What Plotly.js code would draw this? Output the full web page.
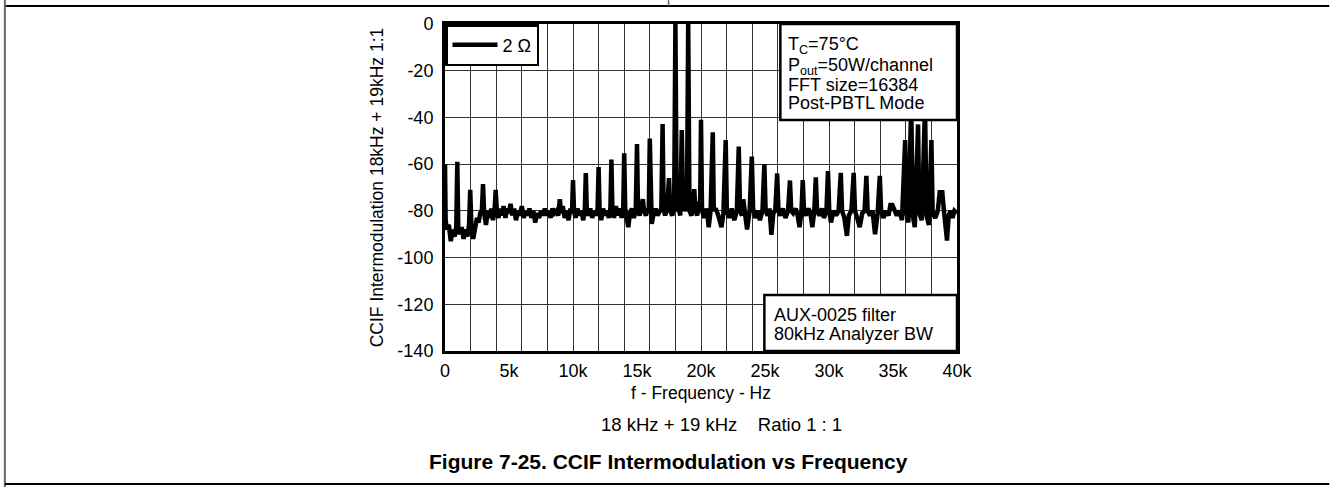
<!DOCTYPE html>
<html>
<head>
<meta charset="utf-8">
<script src="https://cdn.plot.ly/plotly-3.0.1.min.js"></script>
<style>
html,body{margin:0;padding:0;background:#fff;}
#chart{width:1331px;height:487px;}
</style>
</head>
<body>
<div id="chart"></div>
<script>
// Frequency (Hz) of each FFT point
const freqHz = [
0,50,150,300,450,600,750,880,960,1040,1150,1300,1450,1600,1750,1880,1970,2060,2200,2350,
2500,2620,2750,2880,2970,3060,3200,3350,3500,3620,3750,3870,3960,4050,4180,4300,4450,4580,4720,4850,
5000,5120,5250,5400,5550,5700,5850,6000,6150,6300,6450,6600,6750,6900,7050,7200,7350,7500,7650,7800,
7950,8100,8250,8400,8550,8700,8850,8970,9080,9200,9350,9500,9650,9800,9920,10000,10080,10200,10350,10500,
10650,10800,10920,11000,11080,11200,11350,11500,11650,11800,11920,12000,12080,12200,12350,12500,12650,12800,12920,13000,
13080,13200,13350,13500,13650,13800,13920,14000,14080,14200,14320,14450,14600,14750,14900,15000,15080,15200,15350,15460,
15550,15700,15850,15920,16000,16080,16150,16300,16450,16600,16750,16900,17000,17080,17200,17350,17500,17600,17750,17900,
18000,18100,18250,18380,18500,18600,18750,18900,19000,19100,19250,19350,19470,19580,19700,19850,19930,20000,20080,20250,
20450,20600,20750,20920,21000,21150,21350,21600,21750,21930,22020,22200,22400,22600,22800,22950,23050,23200,23300,23450,
23600,23800,23970,24070,24250,24450,24600,24800,24950,25050,25200,25350,25500,25650,25800,25950,26050,26200,26400,26600,
26800,26950,27050,27200,27400,27550,27700,27850,27950,28050,28200,28400,28550,28700,28850,28970,29070,29250,29450,29600,
29800,29920,30020,30150,30350,30550,30750,30920,31020,31200,31400,31550,31750,31930,32030,32200,32400,32600,32780,32920,
33020,33200,33400,33600,33800,33970,34070,34250,34450,34650,34800,34950,35100,35300,35500,35700,35950,36050,36200,36420,
36550,36700,36960,37050,37250,37500,37620,37800,38000,38100,38300,38500,38650,38850,38980,39100,39220,39350,39500,39650,
39800,40000
];
// CCIF intermodulation level (dB) at each frequency above
const levelDb = [
-60,-84,-88,-86,-93,-88,-91,-87,-59,-88,-90,-87,-92,-88,-91,-86,-71,-86,-92,-88,
-83,-85,-81,-80,-68.5,-81,-86,-80,-83,-79,-84,-80,-71,-80,-83,-79,-82,-78,-83,-79,
-81,-77,-82,-79,-84,-80,-82,-78,-83,-80,-82,-79,-83,-80,-85,-81,-83,-80,-82,-79,
-82,-80,-83,-79,-81,-80,-82,-75,-81,-78,-83,-80,-84,-79,-81,-66.8,-80,-83,-79,-82,
-80,-84,-80,-63.8,-80,-82,-79,-83,-80,-82,-79,-61.2,-80,-84,-79,-82,-80,-83,-79,-58,
-80,-83,-78,-82,-79,-83,-80,-55.4,-79,-83,-87,-81,-79,-83,-80,-51.4,-80,-82,-78,-75,
-80,-82,-79,-80,-49,-81,-85.6,-81,-79,-82,-80,-79,-42.8,-79,-82,-79,-66,-80,-82,-79,
0,-80,-79,-82,-45.4,-80,-78,-80,0,-80,-82,-79,-70.7,-80,-82,-76,-80,-41,-80,-83,
-79,-87,-80,-46.4,-80,-79,-82,-87,-81,-49.7,-80,-83,-79,-84,-80,-52.5,-80,-82,-75,-81,
-88,-80,-56.8,-79,-83,-80,-84,-80,-60,-80,-82,-79,-90.3,-81,-80,-64,-80,-82,-79,-83,
-80,-67,-80,-81,-79,-82,-87,-80,-66.8,-80,-82,-79,-81,-87,-80,-65.7,-80,-82,-79,-83,
-80,-63,-80,-85,-80,-82,-80,-63.7,-80,-83,-90.7,-82,-80,-63.7,-80,-83,-87,-81,-80,-65,
-80,-82,-80,-90,-81,-65,-80,-83,-80,-82,-77.5,-77.5,-80,-82,-80,-84,-49.7,-81,-85,-35,
-82,-87,-43,-81,-84,-35,-82,-86,-49.7,-81,-83,-80,-72,-72,-80,-85,-92.7,-82,-80,-83,
-80,-81
];
const seriesName = '2 \u03A9';
const xTickVals = [0,5000,10000,15000,20000,25000,30000,35000,40000];
const xTickText = ['0','5k','10k','15k','20k','25k','30k','35k','40k'];
const yTickVals = [0,-20,-40,-60,-80,-100,-120,-140];
const yTickText = ['0','-20','-40','-60','-80','-100','-120','-140'];
const condLines = ['T<sub>C</sub>=75\u00B0C','P<sub>out</sub>=50W/channel','FFT size=16384','Post-PBTL Mode'];
const filterLines = ['AUX-0025 filter','80kHz Analyzer BW'];

const FONT = 'Liberation Sans, Arial, sans-serif';

const trace = {
  x: freqHz, y: levelDb, type: 'scatter', mode: 'lines', name: seriesName,
  line: {color: '#000', width: 4.5}, xaxis: 'x', yaxis: 'y'
};

function px2x(px){ return (px-445)/513; }
function px2y(py){ return (351-py)/327; }

const shapes = [
  // outer page frame
  {type:'line', xref:'paper', yref:'paper', x0:px2x(4), x1:px2x(1331), y0:px2y(6), y1:px2y(6), line:{color:'#000', width:2}},
  {type:'line', xref:'paper', yref:'paper', x0:px2x(4), x1:px2x(4), y0:px2y(0), y1:px2y(487), line:{color:'#666', width:2}},
  {type:'line', xref:'paper', yref:'paper', x0:px2x(669), x1:px2x(669), y0:px2y(0), y1:px2y(6), line:{color:'#666', width:1.5}},
  {type:'line', xref:'paper', yref:'paper', x0:px2x(4), x1:px2x(1331), y0:px2y(484), y1:px2y(484), line:{color:'#000', width:2}},
  // conditions box
  {type:'rect', xref:'paper', yref:'paper', layer:'above', x0:px2x(781), x1:1, y0:px2y(120), y1:1, fillcolor:'#fff', line:{color:'#000', width:2.5}},
  // filter box
  {type:'rect', xref:'paper', yref:'paper', layer:'above', x0:px2x(765), x1:1, y0:0, y1:px2y(295), fillcolor:'#fff', line:{color:'#000', width:2.5}}
];

const condY = [45, 65.5, 84, 102];
const annotations = [];
condLines.forEach((t,i)=>annotations.push({xref:'paper', yref:'paper', x:px2x(787), y:px2y(condY[i]+1), xanchor:'left', yanchor:'middle', showarrow:false, text:t, font:{family:FONT, size:18, color:'#000'}}));
const filtY = [313.5, 333];
filterLines.forEach((t,i)=>annotations.push({xref:'paper', yref:'paper', x:px2x(773), y:px2y(filtY[i]+1), xanchor:'left', yanchor:'middle', showarrow:false, text:t, font:{family:FONT, size:18, color:'#000'}}));
annotations.push({xref:'paper', yref:'paper', x:px2x(599), y:px2y(424), xanchor:'left', yanchor:'middle', showarrow:false,
  text:'18 kHz + 19 kHz&nbsp;&nbsp;&nbsp;&nbsp;Ratio 1 : 1', font:{family:FONT, size:18.5, color:'#000'}});
annotations.push({xref:'paper', yref:'paper', x:px2x(669), y:px2y(461), xanchor:'center', yanchor:'middle', showarrow:false,
  text:'<b>Figure 7-25. CCIF Intermodulation vs Frequency</b>', font:{family:FONT, size:21, color:'#000'}});

const layout = {
  width:1331, height:487,
  margin:{l:445, r:374, t:24, b:136, pad:0},
  paper_bgcolor:'#fff', plot_bgcolor:'#fff',
  font:{family:FONT, size:18, color:'#000'},
  showlegend:true,
  legend:{x:0, y:1, xanchor:'left', yanchor:'top', bgcolor:'#fff', bordercolor:'#000', borderwidth:2.5,
          itemwidth:45, font:{family:FONT, size:18, color:'#000'}},
  xaxis:{range:[0,40000], dtick:2000, tick0:0, showticklabels:false, showgrid:true, gridcolor:'#333', gridwidth:1,
         zeroline:false, showline:true, linecolor:'#000', linewidth:3, mirror:true, ticks:'',
         title:{text:'f - Frequency - Hz', font:{family:FONT, size:17.5}, standoff:34}},
  xaxis2:{overlaying:'x', anchor:'y', side:'bottom', range:[0,40000], tickmode:'array', tickvals:xTickVals, ticktext:xTickText,
          showgrid:false, zeroline:false, showline:false, ticks:'', ticklabelstandoff:7, tickfont:{family:FONT, size:18}},
  yaxis:{range:[-140,0], tickmode:'array', tickvals:yTickVals, ticktext:yTickText, showgrid:true, gridcolor:'#333', gridwidth:1,
         zeroline:false, showline:true, linecolor:'#000', linewidth:3, mirror:true, ticks:'', ticklabelstandoff:5,
         tickfont:{family:FONT, size:18},
         title:{text:'CCIF Intermodulation 18kHz + 19kHz 1:1', font:{family:FONT, size:17.5}, standoff:10}},
  shapes: shapes,
  annotations: annotations
};

Plotly.newPlot('chart', [trace, {x:[], y:[], xaxis:'x2', yaxis:'y', showlegend:false, hoverinfo:'skip'}], layout, {displayModeBar:false, staticPlot:true});
</script>
</body>
</html>
